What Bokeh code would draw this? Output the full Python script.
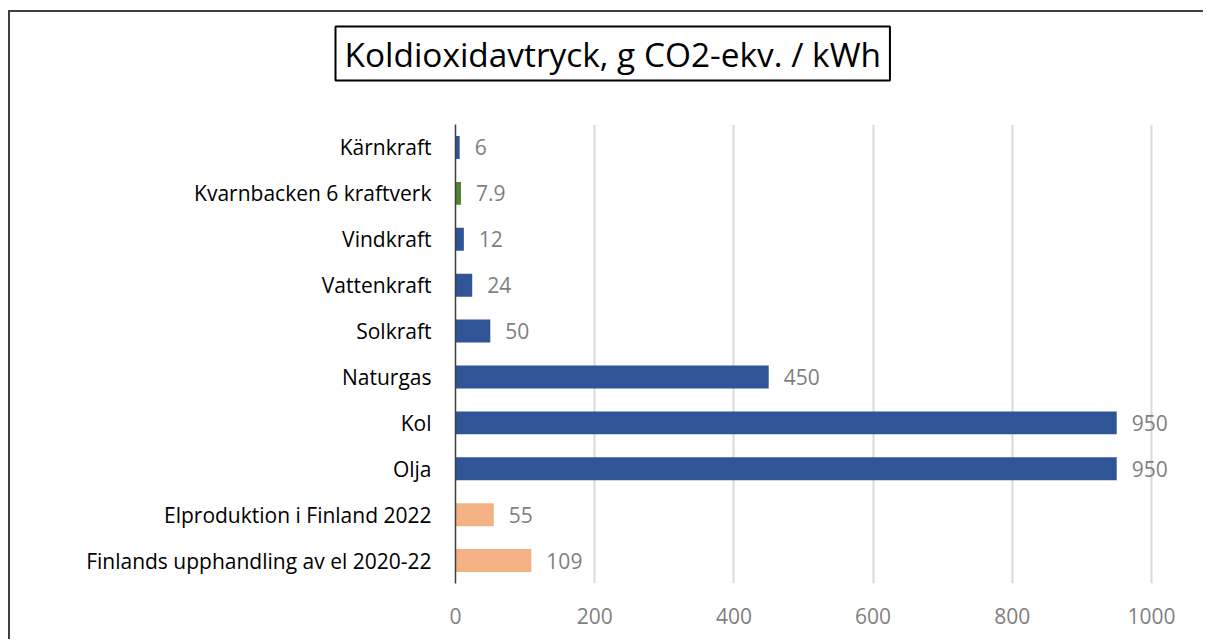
from bokeh.plotting import figure
from bokeh.models import ColumnDataSource, FactorRange, Range1d, FixedTicker, Title
from bokeh.transform import factor_cmap
from bokeh.embed import file_html
from bokeh.resources import INLINE

title_text = "Koldioxidavtryck, g CO2-ekv. / kWh"

categories = [
    "Kärnkraft",
    "Kvarnbacken 6 kraftverk",
    "Vindkraft",
    "Vattenkraft",
    "Solkraft",
    "Naturgas",
    "Kol",
    "Olja",
    "Elproduktion i Finland 2022",
    "Finlands upphandling av el 2020-22",
]
values = [6, 7.9, 12, 24, 50, 450, 950, 950, 55, 109]
groups = ["källa", "kvarnbacken", "källa", "källa", "källa", "källa", "källa", "källa", "finland", "finland"]
x_ticks = [0, 200, 400, 600, 800, 1000]

group_names = ["källa", "kvarnbacken", "finland"]
group_colors = ["#2F5597", "#548235", "#F4B183"]

FONT = "Open Sans"

src = ColumnDataSource(dict(
    cat=categories,
    val=values,
    grp=groups,
    lbl=[f"{v:g}" for v in values],
))

p = figure(
    width=1195, height=629,
    y_range=FactorRange(factors=list(reversed(categories))),
    x_range=Range1d(0, 1074.7),
    output_backend="svg", toolbar_location=None,
    min_border_left=445, min_border_right=2,
    min_border_top=112, min_border_bottom=58,
)
p.styles = {"margin-left": "8px", "margin-top": "10px",
            "border-top": "2px solid #3f3f3f", "border-left": "2px solid #3f3f3f"}
p.outline_line_color = None

p.hbar(y="cat", right="val", left=0, height=0.5, source=src,
       fill_color=factor_cmap("grp", palette=group_colors, factors=group_names),
       line_color=None)

p.text(x="val", y="cat", text="lbl", source=src, x_offset=15,
       text_align="left", text_baseline="middle",
       text_color="#7f7f7f", text_font_size="21px", text_font={"value": FONT})

# axes
p.xaxis.ticker = FixedTicker(ticks=x_ticks)
p.xaxis.axis_line_color = None
p.xaxis.major_tick_line_color = None
p.xaxis.minor_tick_line_color = None
p.xaxis.major_tick_out = 0
p.xaxis.major_label_standoff = 24
p.xaxis.major_label_text_color = "#7f7f7f"
p.xaxis.major_label_text_font_size = "21px"
p.xaxis.major_label_text_font = FONT

p.yaxis.axis_line_color = "#3f3f3f"
p.yaxis.axis_line_width = 1.5
p.yaxis.major_tick_line_color = None
p.yaxis.minor_tick_line_color = None
p.yaxis.major_tick_out = 0
p.yaxis.major_label_standoff = 24
p.yaxis.major_label_text_color = "#000000"
p.yaxis.major_label_text_font_size = "21px"
p.yaxis.major_label_text_font = FONT

p.ygrid.grid_line_color = None
p.xgrid.grid_line_color = "#d9d9d9"
p.xgrid.grid_line_width = 2

# spacer between the title and the plot area (closest to the frame)
spacer = Title(text=" ", text_font_size="1px", standoff=29)
p.add_layout(spacer, "above")

main_title = Title(
    text=title_text, align="left", offset=-120,
    text_font=FONT, text_font_size="33.4px", text_font_style="normal",
    text_color="#000000",
    border_line_color="#000000", border_line_width=2,
    background_fill_color="white",
    padding={"left": 9, "right": 9, "top": 4, "bottom": 4},
    standoff=24,
)
p.add_layout(main_title, "above")

open("out.html", "w").write(file_html(p, INLINE))
